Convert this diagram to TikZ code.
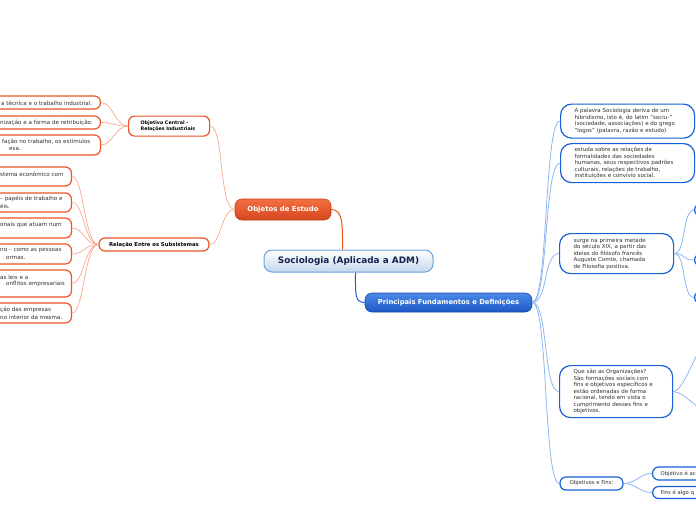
\documentclass[tikz,border=0pt]{standalone}
\usepackage{fontspec}
\setmainfont{DejaVu Sans}
\usepackage{tikz}
\usetikzlibrary{positioning,calc}
\usepackage{xcolor}
\definecolor{rootline}{RGB}{106,164,222}
\definecolor{rootfill}{RGB}{196,216,236}
\definecolor{rootink}{RGB}{22,34,78}
\definecolor{orangetop}{RGB}{242,112,66}
\definecolor{orangebot}{RGB}{214,70,30}
\definecolor{orangeline}{RGB}{196,60,24}
\definecolor{orangemid}{RGB}{236,84,36}
\definecolor{salmon}{RGB}{247,168,138}
\definecolor{bluetop}{RGB}{74,138,232}
\definecolor{bluebot}{RGB}{28,88,196}
\definecolor{blueline}{RGB}{24,76,170}
\definecolor{bluemid}{RGB}{22,96,216}
\definecolor{skyline}{RGB}{140,182,242}
\definecolor{ink}{RGB}{48,48,48}

\begin{document}
\begin{tikzpicture}[x=1pt, y=-1pt,
    root/.style={rectangle, rounded corners=8pt, draw=rootline, line width=1pt,
                 top color=white, bottom color=rootfill, text=rootink,
                 font=\bfseries\fontsize{8.9}{10}\selectfont,
                 minimum width=169pt, minimum height=22pt, inner sep=0pt},
    topicor/.style={rectangle, rounded corners=7pt, draw=orangeline, line width=0.6pt,
                 top color=orangetop, bottom color=orangebot, text=white,
                 font=\bfseries\fontsize{6.9}{8}\selectfont,
                 minimum width=96pt, minimum height=21pt, inner sep=0pt},
    topicbl/.style={rectangle, rounded corners=7pt, draw=blueline, line width=0.6pt,
                 top color=bluetop, bottom color=bluebot, text=white,
                 font=\bfseries\fontsize{6.8}{8}\selectfont,
                 minimum width=167pt, minimum height=19pt, inner sep=0pt},
    subor/.style={rectangle, rounded corners=6pt, draw=orangemid, line width=1.2pt,
                 fill=white, text=black, font=\bfseries\fontsize{4.8}{6.5}\selectfont,
                 inner sep=0pt},
    leafor/.style={rectangle, rounded corners=6pt, draw=orangemid, line width=1.2pt,
                 fill=white, inner sep=0pt},
    leafbl/.style={rectangle, rounded corners=11pt, draw=bluemid, line width=1.2pt,
                 fill=white, text=ink, font=\fontsize{5.5}{6.5}\selectfont,
                 align=left, inner xsep=14pt, inner ysep=0pt},
    leafsm/.style={rectangle, rounded corners=6pt, draw=bluemid, line width=1.2pt,
                 fill=white, text=ink, font=\fontsize{5.3}{6}\selectfont,
                 inner sep=0pt},
    txt/.style={inner sep=0pt, text=ink, font=\fontsize{5.6}{7}\selectfont, anchor=west},
    trunkor/.style={orangemid, line width=1pt},
    trunkbl/.style={bluemid, line width=1pt},
    linkor/.style={salmon, line width=0.7pt},
    linkbl/.style={skyline, line width=0.8pt}
]
    \useasboundingbox (0,0) rectangle (696,520);
    \clip (0,0) rectangle (696,520);

    % Root
    \node[root] (soc) at (348.5,261) {Sociologia (Aplicada a ADM)};

    % Main topics
    \node[topicor] (obj) at (283,209.5) {Objetos de Estudo};
    \node[topicbl] (fund) at (448.5,302.5) {Principais Fundamentos e Definições};
    \draw[trunkor] ($(soc.north)+(-6,0)$) .. controls +(0,-24) and +(12,0) .. (obj.east);
    \draw[trunkbl] ($(soc.south)+(7,0)$) .. controls +(0,22) and +(-10,0) .. (fund.west);

    % Objetos de Estudo: subtopics
    \node[subor, anchor=north west, minimum width=81pt, minimum height=20pt,
          text width=57pt, align=left, inner xsep=12pt]
        (cen) at (128,115.5) {Objetivo Central -\\Relações Industriais};
    \node[subor, minimum width=110pt, minimum height=13pt, font=\bfseries\fontsize{5.3}{6.5}\selectfont]
        (rel) at (154,244.5) {Relação Entre os Subsistemas};
    \draw[linkor] (obj.west) .. controls +(-16,0) and +(14,0) .. (cen.east);
    \draw[linkor] (obj.west) .. controls +(-14,0) and +(12,0) .. (rel.east);

    % Objetivo Central: leaves (cut at the left border)
    \node[leafor, anchor=east, minimum width=150pt, minimum height=13pt] (tec) at (101,102.5) {};
    \node[txt] (tec1) at (1,103) {a técnica e o trabalho industrial.};
    \node[leafor, anchor=east, minimum width=150pt, minimum height=13pt] (ret) at (101,122.5) {};
    \node[txt] (ret1) at (0,122.5) {nização e a forma de retribuição.};
    \node[leafor, anchor=east, minimum width=150pt, minimum height=20pt] (sat) at (101,145) {};
    \node[txt] (sat1) at (2,142) {fação no trabalho, os estímulos};
    \node[txt] (sat2) at (9,149) {esa.};
    \foreach \leaf in {tec,ret,sat}
        \draw[linkor] (cen.west) .. controls +(-13,0) and +(12,0) .. (\leaf.east);

    % Relacao Entre os Subsistemas: leaves (cut at the left border)
    \node[leafor, anchor=east, minimum width=120pt, minimum height=19pt] (eco) at (72,176.5) {};
    \node[txt] (eco1) at (0,174) {stema econômico com};
    \node[leafor, anchor=east, minimum width=120pt, minimum height=19pt] (pap) at (72,202.5) {};
    \node[txt] (pap1) at (0,199) {– papéis de trabalho e};
    \node[txt] (pap2) at (0,206) {éis.};
    \node[leafor, anchor=east, minimum width=120pt, minimum height=20pt] (mem) at (72,228) {};
    \node[txt] (mem1) at (0,225) {onais que atuam num};
    \node[leafor, anchor=east, minimum width=120pt, minimum height=20pt] (nor) at (72,254) {};
    \node[txt] (nor1) at (0,250.5) {no – como as pessoas};
    \node[txt] (nor2) at (6,258) {ormas.};
    \node[leafor, anchor=east, minimum width=120pt, minimum height=27pt] (lei) at (72,283.5) {};
    \node[txt] (lei1) at (0,277) {as leis e a};
    \node[txt] (lei2) at (6,284) {onflitos empresariais};
    \node[leafor, anchor=east, minimum width=120pt, minimum height=20pt] (emp) at (72,313) {};
    \node[txt] (emp1) at (0,310) {ção das empresas};
    \node[txt] (emp2) at (0,317) {no interior da mesma.};
    \foreach \leaf in {eco,pap,mem,nor,lei,emp}
        \draw[linkor] (rel.west) .. controls +(-14,0) and +(12,0) .. (\leaf.east);

    % Principais Fundamentos: definitions
    \node[leafbl, anchor=north west, text width=106pt, minimum height=34pt] (pal) at (560,103.5)
        {A palavra Sociologia deriva de um\\hibridismo, isto é, do latim "sociu-"\\(sociedade, associações) e do grego\\"logos" (palavra, razão e estudo)};
    \node[leafbl, anchor=north west, text width=106pt, minimum height=39pt] (est) at (560,143)
        {estuda sobre as relações de\\formalidades das sociedades\\humanas, seus respectivos padrões\\culturais, relações de trabalho,\\instituições e convívio social.};
    \node[leafbl, anchor=north west, text width=86pt, minimum height=40pt] (sur) at (559,233)
        {surge na primeira metade\\do século XIX, a partir das\\ideias do filósofo francês\\Auguste Comte, chamada\\de Filosofia positiva.};
    \node[leafbl, anchor=north west, text width=85pt, minimum height=52pt] (org) at (559,365)
        {Que são as Organizações?\\São formações sociais com\\fins e objetivos específicos e\\estão ordenadas de forma\\racional, tendo em vista o\\cumprimento desses fins e\\objetivos.};
    \node[leafsm, minimum width=63pt, minimum height=13pt] (fins) at (591.5,483.5) {Objetivos e Fins:};
    \foreach \leaf in {pal,est,sur,org,fins}
        \draw[linkbl] (fund.east) .. controls +(16,0) and +(-16,0) .. (\leaf.west);

    % Children cut at the right border
    \node[leafsm, anchor=west, minimum width=60pt, minimum height=12pt] (sur1) at (694,210) {};
    \node[leafsm, anchor=west, minimum width=60pt, minimum height=12pt] (sur2) at (694,260) {};
    \node[leafsm, anchor=west, minimum width=60pt, minimum height=12pt] (sur3) at (694,297.5) {};
    \foreach \leaf in {sur1,sur2,sur3}
        \draw[linkbl] (sur.east) .. controls +(12,0) and +(-12,0) .. (\leaf.west);
    \coordinate (org1) at (712,336);
    \coordinate (org2) at (712,414);
    \foreach \leaf in {org1,org2}
        \draw[linkbl] (org.east) .. controls +(12,0) and +(-12,0) .. (\leaf);

    \node[leafsm, anchor=west, minimum width=100pt, minimum height=13pt, text width=86pt,
          inner xsep=8pt, align=left] (fim1) at (652,473.5) {Objetivo é ac};
    \node[leafsm, anchor=west, minimum width=100pt, minimum height=12pt, text width=86pt,
          inner xsep=8pt, align=left] (fim2) at (652,492.5) {Fins é algo q};
    \foreach \leaf in {fim1,fim2}
        \draw[linkbl] (fins.east) .. controls +(12,0) and +(-12,0) .. (\leaf.west);
\end{tikzpicture}
\end{document}
